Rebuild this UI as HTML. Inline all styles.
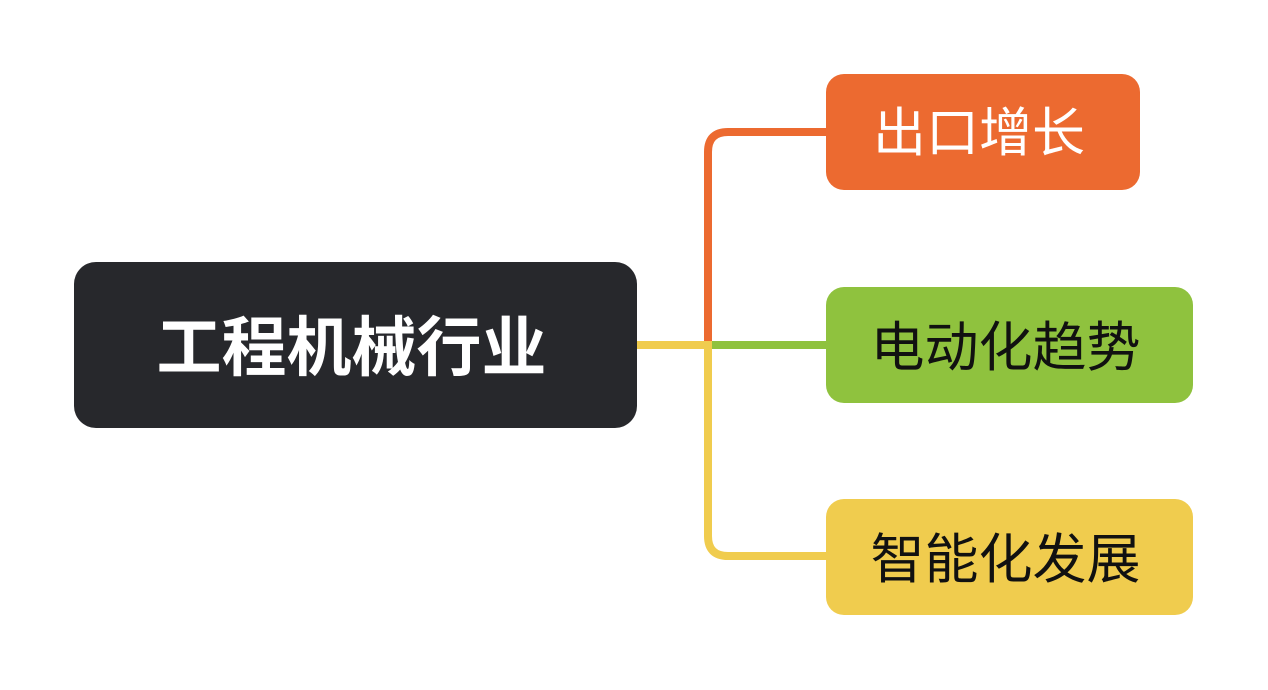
<!DOCTYPE html>
<html><head><meta charset="utf-8"><style>
body{margin:0;width:1268px;height:690px;background:#fff;position:relative;overflow:hidden;font-family:"Liberation Sans","Noto Sans CJK SC",sans-serif}
.b{position:absolute;display:flex;align-items:center;justify-content:center;white-space:nowrap}
.b span{position:relative;top:-3px;left:-4px}
</style></head><body>
<svg width="1268" height="690" style="position:absolute;left:0;top:0">
<path d="M708 345 V152 Q708 132 728 132 H830" fill="none" stroke="#ec6a30" stroke-width="8"/>
<path d="M708 345 V536 Q708 556 728 556 H830" fill="none" stroke="#f0cc4e" stroke-width="8"/>
<path d="M635 345 H712" fill="none" stroke="#f0cc4e" stroke-width="8"/>
<path d="M712 345 H830" fill="none" stroke="#8fc23e" stroke-width="8"/>
</svg>
<div class="b" style="left:74px;top:262px;width:563px;height:166px;background:#27282c;border-radius:22px;color:#fff;font-size:65px;font-weight:bold"><span>工程机械行业</span></div>
<div class="b" style="left:826px;top:74px;width:314px;height:116px;background:#ec6a30;border-radius:18px;color:#fff;font-size:53px"><span>出口增长</span></div>
<div class="b" style="left:826px;top:287px;width:367px;height:116px;background:#8fc23e;border-radius:18px;color:#111;font-size:54px"><span>电动化趋势</span></div>
<div class="b" style="left:826px;top:499px;width:367px;height:116px;background:#f0cc4e;border-radius:18px;color:#111;font-size:54px"><span>智能化发展</span></div>
</body></html>
